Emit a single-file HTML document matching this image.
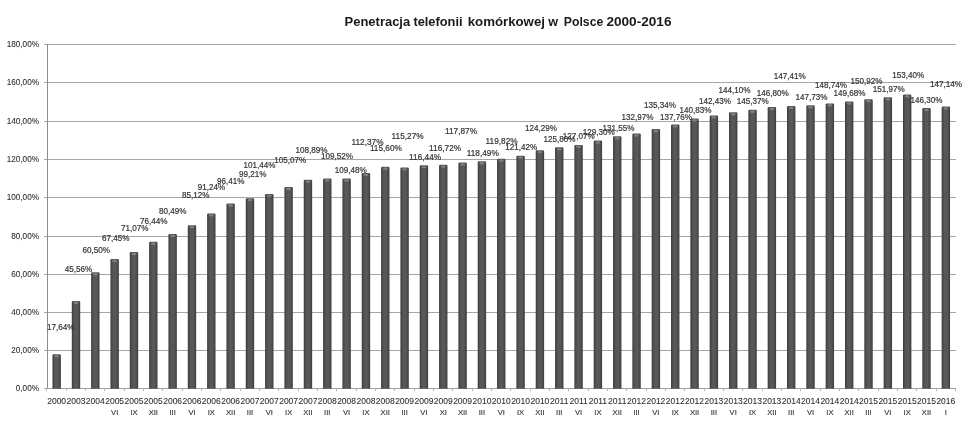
<!DOCTYPE html>
<html><head><meta charset="utf-8"><style>
html,body{margin:0;padding:0;background:#fff;width:965px;height:421px;overflow:hidden}
svg{display:block;will-change:transform}
text{font-family:"Liberation Sans",sans-serif}
</style></head><body>
<svg width="965" height="421" viewBox="0 0 965 421">
<defs>
<linearGradient id="bg" x1="0" x2="1" y1="0" y2="0">
<stop offset="0" stop-color="#3c3c3c"/><stop offset="0.15" stop-color="#4a4a4a"/><stop offset="0.35" stop-color="#585858"/><stop offset="0.65" stop-color="#585858"/><stop offset="0.85" stop-color="#4a4a4a"/><stop offset="1" stop-color="#3c3c3c"/>
</linearGradient>
</defs>
<rect width="965" height="421" fill="#fff"/>
<text x="344.60" y="25.9" font-size="12.4" font-weight="bold" fill="#1a1a1a" textLength="65.60" lengthAdjust="spacingAndGlyphs">Penetracja</text>
<text x="413.40" y="25.9" font-size="12.4" font-weight="bold" fill="#1a1a1a" textLength="49.20" lengthAdjust="spacingAndGlyphs">telefonii</text>
<text x="467.70" y="25.9" font-size="12.4" font-weight="bold" fill="#1a1a1a" textLength="77.30" lengthAdjust="spacingAndGlyphs">komórkowej</text>
<text x="548.30" y="25.9" font-size="12.4" font-weight="bold" fill="#1a1a1a" textLength="9.80" lengthAdjust="spacingAndGlyphs">w</text>
<text x="563.80" y="25.9" font-size="12.4" font-weight="bold" fill="#1a1a1a" textLength="39.50" lengthAdjust="spacingAndGlyphs">Polsce</text>
<text x="606.40" y="25.9" font-size="12.4" font-weight="bold" fill="#1a1a1a" textLength="65.10" lengthAdjust="spacingAndGlyphs">2000-2016</text>
<text x="39" y="391.40" font-size="8.2" fill="#2e2e2e" stroke="#2e2e2e" stroke-width="0.08" text-anchor="end">0,00%</text>
<text x="39" y="353.40" font-size="8.2" fill="#2e2e2e" stroke="#2e2e2e" stroke-width="0.08" text-anchor="end">20,00%</text>
<text x="39" y="315.40" font-size="8.2" fill="#2e2e2e" stroke="#2e2e2e" stroke-width="0.08" text-anchor="end">40,00%</text>
<text x="39" y="277.40" font-size="8.2" fill="#2e2e2e" stroke="#2e2e2e" stroke-width="0.08" text-anchor="end">60,00%</text>
<text x="39" y="239.40" font-size="8.2" fill="#2e2e2e" stroke="#2e2e2e" stroke-width="0.08" text-anchor="end">80,00%</text>
<text x="39" y="200.40" font-size="8.2" fill="#2e2e2e" stroke="#2e2e2e" stroke-width="0.08" text-anchor="end">100,00%</text>
<text x="39" y="162.40" font-size="8.2" fill="#2e2e2e" stroke="#2e2e2e" stroke-width="0.08" text-anchor="end">120,00%</text>
<text x="39" y="124.40" font-size="8.2" fill="#2e2e2e" stroke="#2e2e2e" stroke-width="0.08" text-anchor="end">140,00%</text>
<text x="39" y="85.40" font-size="8.2" fill="#2e2e2e" stroke="#2e2e2e" stroke-width="0.08" text-anchor="end">160,00%</text>
<text x="39" y="47.40" font-size="8.2" fill="#2e2e2e" stroke="#2e2e2e" stroke-width="0.08" text-anchor="end">180,00%</text>
<line x1="44" y1="388.50" x2="956" y2="388.50" stroke="#a6a6a6" stroke-width="1"/>
<line x1="44" y1="350.50" x2="956" y2="350.50" stroke="#a6a6a6" stroke-width="1"/>
<line x1="44" y1="312.50" x2="956" y2="312.50" stroke="#a6a6a6" stroke-width="1"/>
<line x1="44" y1="274.50" x2="956" y2="274.50" stroke="#a6a6a6" stroke-width="1"/>
<line x1="44" y1="236.50" x2="956" y2="236.50" stroke="#a6a6a6" stroke-width="1"/>
<line x1="44" y1="197.50" x2="956" y2="197.50" stroke="#a6a6a6" stroke-width="1"/>
<line x1="44" y1="159.50" x2="956" y2="159.50" stroke="#a6a6a6" stroke-width="1"/>
<line x1="44" y1="121.50" x2="956" y2="121.50" stroke="#a6a6a6" stroke-width="1"/>
<line x1="44" y1="82.50" x2="956" y2="82.50" stroke="#a6a6a6" stroke-width="1"/>
<line x1="44" y1="44.50" x2="956" y2="44.50" stroke="#a6a6a6" stroke-width="1"/>
<line x1="47.5" y1="44" x2="47.5" y2="389" stroke="#8c8c8c" stroke-width="1"/>
<line x1="47.0" y1="388.5" x2="956" y2="388.5" stroke="#a0a0a0" stroke-width="1"/>
<line x1="46.50" y1="388.5" x2="46.50" y2="391" stroke="#b4b4b4" stroke-width="1"/><line x1="66.50" y1="388.5" x2="66.50" y2="391" stroke="#b4b4b4" stroke-width="1"/><line x1="85.50" y1="388.5" x2="85.50" y2="391" stroke="#b4b4b4" stroke-width="1"/><line x1="104.50" y1="388.5" x2="104.50" y2="391" stroke="#b4b4b4" stroke-width="1"/><line x1="124.50" y1="388.5" x2="124.50" y2="391" stroke="#b4b4b4" stroke-width="1"/><line x1="143.50" y1="388.5" x2="143.50" y2="391" stroke="#b4b4b4" stroke-width="1"/><line x1="162.50" y1="388.5" x2="162.50" y2="391" stroke="#b4b4b4" stroke-width="1"/><line x1="182.50" y1="388.5" x2="182.50" y2="391" stroke="#b4b4b4" stroke-width="1"/><line x1="201.50" y1="388.5" x2="201.50" y2="391" stroke="#b4b4b4" stroke-width="1"/><line x1="220.50" y1="388.5" x2="220.50" y2="391" stroke="#b4b4b4" stroke-width="1"/><line x1="240.50" y1="388.5" x2="240.50" y2="391" stroke="#b4b4b4" stroke-width="1"/><line x1="259.50" y1="388.5" x2="259.50" y2="391" stroke="#b4b4b4" stroke-width="1"/><line x1="278.50" y1="388.5" x2="278.50" y2="391" stroke="#b4b4b4" stroke-width="1"/><line x1="298.50" y1="388.5" x2="298.50" y2="391" stroke="#b4b4b4" stroke-width="1"/><line x1="317.50" y1="388.5" x2="317.50" y2="391" stroke="#b4b4b4" stroke-width="1"/><line x1="336.50" y1="388.5" x2="336.50" y2="391" stroke="#b4b4b4" stroke-width="1"/><line x1="356.50" y1="388.5" x2="356.50" y2="391" stroke="#b4b4b4" stroke-width="1"/><line x1="375.50" y1="388.5" x2="375.50" y2="391" stroke="#b4b4b4" stroke-width="1"/><line x1="394.50" y1="388.5" x2="394.50" y2="391" stroke="#b4b4b4" stroke-width="1"/><line x1="414.50" y1="388.5" x2="414.50" y2="391" stroke="#b4b4b4" stroke-width="1"/><line x1="433.50" y1="388.5" x2="433.50" y2="391" stroke="#b4b4b4" stroke-width="1"/><line x1="452.50" y1="388.5" x2="452.50" y2="391" stroke="#b4b4b4" stroke-width="1"/><line x1="472.50" y1="388.5" x2="472.50" y2="391" stroke="#b4b4b4" stroke-width="1"/><line x1="491.50" y1="388.5" x2="491.50" y2="391" stroke="#b4b4b4" stroke-width="1"/><line x1="510.50" y1="388.5" x2="510.50" y2="391" stroke="#b4b4b4" stroke-width="1"/><line x1="530.50" y1="388.5" x2="530.50" y2="391" stroke="#b4b4b4" stroke-width="1"/><line x1="549.50" y1="388.5" x2="549.50" y2="391" stroke="#b4b4b4" stroke-width="1"/><line x1="568.50" y1="388.5" x2="568.50" y2="391" stroke="#b4b4b4" stroke-width="1"/><line x1="588.50" y1="388.5" x2="588.50" y2="391" stroke="#b4b4b4" stroke-width="1"/><line x1="607.50" y1="388.5" x2="607.50" y2="391" stroke="#b4b4b4" stroke-width="1"/><line x1="626.50" y1="388.5" x2="626.50" y2="391" stroke="#b4b4b4" stroke-width="1"/><line x1="646.50" y1="388.5" x2="646.50" y2="391" stroke="#b4b4b4" stroke-width="1"/><line x1="665.50" y1="388.5" x2="665.50" y2="391" stroke="#b4b4b4" stroke-width="1"/><line x1="684.50" y1="388.5" x2="684.50" y2="391" stroke="#b4b4b4" stroke-width="1"/><line x1="704.50" y1="388.5" x2="704.50" y2="391" stroke="#b4b4b4" stroke-width="1"/><line x1="723.50" y1="388.5" x2="723.50" y2="391" stroke="#b4b4b4" stroke-width="1"/><line x1="742.50" y1="388.5" x2="742.50" y2="391" stroke="#b4b4b4" stroke-width="1"/><line x1="762.50" y1="388.5" x2="762.50" y2="391" stroke="#b4b4b4" stroke-width="1"/><line x1="781.50" y1="388.5" x2="781.50" y2="391" stroke="#b4b4b4" stroke-width="1"/><line x1="800.50" y1="388.5" x2="800.50" y2="391" stroke="#b4b4b4" stroke-width="1"/><line x1="820.50" y1="388.5" x2="820.50" y2="391" stroke="#b4b4b4" stroke-width="1"/><line x1="839.50" y1="388.5" x2="839.50" y2="391" stroke="#b4b4b4" stroke-width="1"/><line x1="858.50" y1="388.5" x2="858.50" y2="391" stroke="#b4b4b4" stroke-width="1"/><line x1="878.50" y1="388.5" x2="878.50" y2="391" stroke="#b4b4b4" stroke-width="1"/><line x1="897.50" y1="388.5" x2="897.50" y2="391" stroke="#b4b4b4" stroke-width="1"/><line x1="916.50" y1="388.5" x2="916.50" y2="391" stroke="#b4b4b4" stroke-width="1"/><line x1="936.50" y1="388.5" x2="936.50" y2="391" stroke="#b4b4b4" stroke-width="1"/><line x1="955.50" y1="388.5" x2="955.50" y2="391" stroke="#b4b4b4" stroke-width="1"/>
<path d="M52.46 388.8 V355.54 Q52.46 354.34 53.66 354.34 H59.66 Q60.87 354.34 60.87 355.54 V388.8 Z" fill="url(#bg)"/><ellipse cx="56.66" cy="356.24" rx="2.60" ry="1.2" fill="#7e7e7e"/><path d="M71.80 388.8 V302.10 Q71.80 300.90 73.00 300.90 H79.00 Q80.20 300.90 80.20 302.10 V388.8 Z" fill="url(#bg)"/><ellipse cx="76.00" cy="302.80" rx="2.60" ry="1.2" fill="#7e7e7e"/><path d="M91.12 388.8 V273.50 Q91.12 272.30 92.32 272.30 H98.32 Q99.52 272.30 99.52 273.50 V388.8 Z" fill="url(#bg)"/><ellipse cx="95.32" cy="274.20" rx="2.60" ry="1.2" fill="#7e7e7e"/><path d="M110.45 388.8 V260.20 Q110.45 259.00 111.66 259.00 H117.66 Q118.86 259.00 118.86 260.20 V388.8 Z" fill="url(#bg)"/><ellipse cx="114.66" cy="260.90" rx="2.60" ry="1.2" fill="#7e7e7e"/><path d="M129.78 388.8 V253.27 Q129.78 252.07 130.98 252.07 H136.98 Q138.18 252.07 138.18 253.27 V388.8 Z" fill="url(#bg)"/><ellipse cx="133.98" cy="253.97" rx="2.60" ry="1.2" fill="#7e7e7e"/><path d="M149.12 388.8 V242.99 Q149.12 241.79 150.31 241.79 H156.31 Q157.51 241.79 157.51 242.99 V388.8 Z" fill="url(#bg)"/><ellipse cx="153.31" cy="243.69" rx="2.60" ry="1.2" fill="#7e7e7e"/><path d="M168.44 388.8 V235.24 Q168.44 234.04 169.64 234.04 H175.64 Q176.84 234.04 176.84 235.24 V388.8 Z" fill="url(#bg)"/><ellipse cx="172.64" cy="235.94" rx="2.60" ry="1.2" fill="#7e7e7e"/><path d="M187.78 388.8 V226.38 Q187.78 225.18 188.97 225.18 H194.97 Q196.17 225.18 196.17 226.38 V388.8 Z" fill="url(#bg)"/><ellipse cx="191.97" cy="227.08" rx="2.60" ry="1.2" fill="#7e7e7e"/><path d="M207.10 388.8 V214.67 Q207.10 213.47 208.30 213.47 H214.30 Q215.50 213.47 215.50 214.67 V388.8 Z" fill="url(#bg)"/><ellipse cx="211.30" cy="215.37" rx="2.60" ry="1.2" fill="#7e7e7e"/><path d="M226.44 388.8 V204.77 Q226.44 203.57 227.63 203.57 H233.63 Q234.83 203.57 234.83 204.77 V388.8 Z" fill="url(#bg)"/><ellipse cx="230.63" cy="205.47" rx="2.60" ry="1.2" fill="#7e7e7e"/><path d="M245.76 388.8 V199.41 Q245.76 198.21 246.96 198.21 H252.96 Q254.16 198.21 254.16 199.41 V388.8 Z" fill="url(#bg)"/><ellipse cx="249.96" cy="200.11" rx="2.60" ry="1.2" fill="#7e7e7e"/><path d="M265.09 388.8 V195.14 Q265.09 193.94 266.29 193.94 H272.29 Q273.49 193.94 273.49 195.14 V388.8 Z" fill="url(#bg)"/><ellipse cx="269.29" cy="195.84" rx="2.60" ry="1.2" fill="#7e7e7e"/><path d="M284.43 388.8 V188.20 Q284.43 187.00 285.62 187.00 H291.62 Q292.82 187.00 292.82 188.20 V388.8 Z" fill="url(#bg)"/><ellipse cx="288.62" cy="188.90" rx="2.60" ry="1.2" fill="#7e7e7e"/><path d="M303.75 388.8 V180.88 Q303.75 179.68 304.95 179.68 H310.95 Q312.15 179.68 312.15 180.88 V388.8 Z" fill="url(#bg)"/><ellipse cx="307.95" cy="181.58" rx="2.60" ry="1.2" fill="#7e7e7e"/><path d="M323.08 388.8 V179.68 Q323.08 178.48 324.28 178.48 H330.28 Q331.48 178.48 331.48 179.68 V388.8 Z" fill="url(#bg)"/><ellipse cx="327.28" cy="180.38" rx="2.60" ry="1.2" fill="#7e7e7e"/><path d="M342.41 388.8 V179.76 Q342.41 178.56 343.61 178.56 H349.61 Q350.81 178.56 350.81 179.76 V388.8 Z" fill="url(#bg)"/><ellipse cx="346.61" cy="180.46" rx="2.60" ry="1.2" fill="#7e7e7e"/><path d="M361.75 388.8 V174.22 Q361.75 173.02 362.94 173.02 H368.94 Q370.14 173.02 370.14 174.22 V388.8 Z" fill="url(#bg)"/><ellipse cx="365.94" cy="174.92" rx="2.60" ry="1.2" fill="#7e7e7e"/><path d="M381.07 388.8 V168.04 Q381.07 166.84 382.27 166.84 H388.27 Q389.47 166.84 389.47 168.04 V388.8 Z" fill="url(#bg)"/><ellipse cx="385.27" cy="168.74" rx="2.60" ry="1.2" fill="#7e7e7e"/><path d="M400.40 388.8 V168.67 Q400.40 167.47 401.60 167.47 H407.60 Q408.80 167.47 408.80 168.67 V388.8 Z" fill="url(#bg)"/><ellipse cx="404.60" cy="169.37" rx="2.60" ry="1.2" fill="#7e7e7e"/><path d="M419.73 388.8 V166.43 Q419.73 165.23 420.93 165.23 H426.93 Q428.13 165.23 428.13 166.43 V388.8 Z" fill="url(#bg)"/><ellipse cx="423.93" cy="167.13" rx="2.60" ry="1.2" fill="#7e7e7e"/><path d="M439.06 388.8 V165.90 Q439.06 164.70 440.26 164.70 H446.26 Q447.46 164.70 447.46 165.90 V388.8 Z" fill="url(#bg)"/><ellipse cx="443.26" cy="166.60" rx="2.60" ry="1.2" fill="#7e7e7e"/><path d="M458.39 388.8 V163.70 Q458.39 162.50 459.59 162.50 H465.59 Q466.79 162.50 466.79 163.70 V388.8 Z" fill="url(#bg)"/><ellipse cx="462.59" cy="164.40" rx="2.60" ry="1.2" fill="#7e7e7e"/><path d="M477.72 388.8 V162.51 Q477.72 161.31 478.92 161.31 H484.92 Q486.12 161.31 486.12 162.51 V388.8 Z" fill="url(#bg)"/><ellipse cx="481.92" cy="163.21" rx="2.60" ry="1.2" fill="#7e7e7e"/><path d="M497.05 388.8 V159.96 Q497.05 158.76 498.25 158.76 H504.25 Q505.45 158.76 505.45 159.96 V388.8 Z" fill="url(#bg)"/><ellipse cx="501.25" cy="160.66" rx="2.60" ry="1.2" fill="#7e7e7e"/><path d="M516.38 388.8 V156.90 Q516.38 155.70 517.59 155.70 H523.59 Q524.79 155.70 524.79 156.90 V388.8 Z" fill="url(#bg)"/><ellipse cx="520.59" cy="157.60" rx="2.60" ry="1.2" fill="#7e7e7e"/><path d="M535.71 388.8 V151.41 Q535.71 150.21 536.91 150.21 H542.91 Q544.12 150.21 544.12 151.41 V388.8 Z" fill="url(#bg)"/><ellipse cx="539.91" cy="152.11" rx="2.60" ry="1.2" fill="#7e7e7e"/><path d="M555.04 388.8 V148.52 Q555.04 147.32 556.25 147.32 H562.25 Q563.45 147.32 563.45 148.52 V388.8 Z" fill="url(#bg)"/><ellipse cx="559.25" cy="149.22" rx="2.60" ry="1.2" fill="#7e7e7e"/><path d="M574.37 388.8 V146.09 Q574.37 144.89 575.57 144.89 H581.57 Q582.77 144.89 582.77 146.09 V388.8 Z" fill="url(#bg)"/><ellipse cx="578.57" cy="146.79" rx="2.60" ry="1.2" fill="#7e7e7e"/><path d="M593.70 388.8 V141.82 Q593.70 140.62 594.90 140.62 H600.90 Q602.11 140.62 602.11 141.82 V388.8 Z" fill="url(#bg)"/><ellipse cx="597.90" cy="142.52" rx="2.60" ry="1.2" fill="#7e7e7e"/><path d="M613.03 388.8 V137.51 Q613.03 136.31 614.23 136.31 H620.23 Q621.43 136.31 621.43 137.51 V388.8 Z" fill="url(#bg)"/><ellipse cx="617.23" cy="138.21" rx="2.60" ry="1.2" fill="#7e7e7e"/><path d="M632.36 388.8 V134.80 Q632.36 133.60 633.56 133.60 H639.56 Q640.76 133.60 640.76 134.80 V388.8 Z" fill="url(#bg)"/><ellipse cx="636.56" cy="135.50" rx="2.60" ry="1.2" fill="#7e7e7e"/><path d="M651.69 388.8 V130.26 Q651.69 129.06 652.89 129.06 H658.89 Q660.10 129.06 660.10 130.26 V388.8 Z" fill="url(#bg)"/><ellipse cx="655.89" cy="130.96" rx="2.60" ry="1.2" fill="#7e7e7e"/><path d="M671.02 388.8 V125.63 Q671.02 124.43 672.22 124.43 H678.22 Q679.42 124.43 679.42 125.63 V388.8 Z" fill="url(#bg)"/><ellipse cx="675.22" cy="126.33" rx="2.60" ry="1.2" fill="#7e7e7e"/><path d="M690.35 388.8 V119.75 Q690.35 118.55 691.55 118.55 H697.55 Q698.75 118.55 698.75 119.75 V388.8 Z" fill="url(#bg)"/><ellipse cx="694.55" cy="120.45" rx="2.60" ry="1.2" fill="#7e7e7e"/><path d="M709.68 388.8 V116.69 Q709.68 115.49 710.88 115.49 H716.88 Q718.09 115.49 718.09 116.69 V388.8 Z" fill="url(#bg)"/><ellipse cx="713.88" cy="117.39" rx="2.60" ry="1.2" fill="#7e7e7e"/><path d="M729.01 388.8 V113.49 Q729.01 112.29 730.21 112.29 H736.21 Q737.41 112.29 737.41 113.49 V388.8 Z" fill="url(#bg)"/><ellipse cx="733.21" cy="114.19" rx="2.60" ry="1.2" fill="#7e7e7e"/><path d="M748.34 388.8 V111.06 Q748.34 109.86 749.54 109.86 H755.54 Q756.75 109.86 756.75 111.06 V388.8 Z" fill="url(#bg)"/><ellipse cx="752.54" cy="111.76" rx="2.60" ry="1.2" fill="#7e7e7e"/><path d="M767.67 388.8 V108.32 Q767.67 107.12 768.87 107.12 H774.87 Q776.07 107.12 776.07 108.32 V388.8 Z" fill="url(#bg)"/><ellipse cx="771.87" cy="109.02" rx="2.60" ry="1.2" fill="#7e7e7e"/><path d="M787.00 388.8 V107.16 Q787.00 105.96 788.20 105.96 H794.20 Q795.40 105.96 795.40 107.16 V388.8 Z" fill="url(#bg)"/><ellipse cx="791.20" cy="107.86" rx="2.60" ry="1.2" fill="#7e7e7e"/><path d="M806.33 388.8 V106.54 Q806.33 105.34 807.53 105.34 H813.53 Q814.74 105.34 814.74 106.54 V388.8 Z" fill="url(#bg)"/><ellipse cx="810.53" cy="107.24" rx="2.60" ry="1.2" fill="#7e7e7e"/><path d="M825.66 388.8 V104.61 Q825.66 103.41 826.86 103.41 H832.86 Q834.06 103.41 834.06 104.61 V388.8 Z" fill="url(#bg)"/><ellipse cx="829.86" cy="105.31" rx="2.60" ry="1.2" fill="#7e7e7e"/><path d="M844.99 388.8 V102.81 Q844.99 101.61 846.19 101.61 H852.19 Q853.39 101.61 853.39 102.81 V388.8 Z" fill="url(#bg)"/><ellipse cx="849.19" cy="103.51" rx="2.60" ry="1.2" fill="#7e7e7e"/><path d="M864.32 388.8 V100.44 Q864.32 99.24 865.52 99.24 H871.52 Q872.73 99.24 872.73 100.44 V388.8 Z" fill="url(#bg)"/><ellipse cx="868.52" cy="101.14" rx="2.60" ry="1.2" fill="#7e7e7e"/><path d="M883.65 388.8 V98.43 Q883.65 97.23 884.85 97.23 H890.85 Q892.05 97.23 892.05 98.43 V388.8 Z" fill="url(#bg)"/><ellipse cx="887.85" cy="99.13" rx="2.60" ry="1.2" fill="#7e7e7e"/><path d="M902.98 388.8 V95.69 Q902.98 94.49 904.18 94.49 H910.18 Q911.38 94.49 911.38 95.69 V388.8 Z" fill="url(#bg)"/><ellipse cx="907.18" cy="96.39" rx="2.60" ry="1.2" fill="#7e7e7e"/><path d="M922.31 388.8 V109.28 Q922.31 108.08 923.51 108.08 H929.51 Q930.71 108.08 930.71 109.28 V388.8 Z" fill="url(#bg)"/><ellipse cx="926.51" cy="109.98" rx="2.60" ry="1.2" fill="#7e7e7e"/><path d="M941.64 388.8 V107.67 Q941.64 106.47 942.84 106.47 H948.84 Q950.04 106.47 950.04 107.67 V388.8 Z" fill="url(#bg)"/><ellipse cx="945.84" cy="108.37" rx="2.60" ry="1.2" fill="#7e7e7e"/>
<text x="47.10" y="329.70" font-size="8.8" fill="#333" stroke="#333" stroke-width="0.2" textLength="27.47" lengthAdjust="spacingAndGlyphs">17,64%</text>
<text x="64.75" y="272.30" font-size="8.8" fill="#333" stroke="#333" stroke-width="0.2" textLength="27.47" lengthAdjust="spacingAndGlyphs">45,56%</text>
<text x="82.40" y="253.30" font-size="8.8" fill="#333" stroke="#333" stroke-width="0.2" textLength="27.47" lengthAdjust="spacingAndGlyphs">60,50%</text>
<text x="102.10" y="240.60" font-size="8.8" fill="#333" stroke="#333" stroke-width="0.2" textLength="27.47" lengthAdjust="spacingAndGlyphs">67,45%</text>
<text x="121.10" y="230.90" font-size="8.8" fill="#333" stroke="#333" stroke-width="0.2" textLength="27.47" lengthAdjust="spacingAndGlyphs">71,07%</text>
<text x="139.90" y="223.80" font-size="8.8" fill="#333" stroke="#333" stroke-width="0.2" textLength="27.47" lengthAdjust="spacingAndGlyphs">76,44%</text>
<text x="159.10" y="213.90" font-size="8.8" fill="#333" stroke="#333" stroke-width="0.2" textLength="27.47" lengthAdjust="spacingAndGlyphs">80,49%</text>
<text x="182.00" y="197.50" font-size="8.8" fill="#333" stroke="#333" stroke-width="0.2" textLength="27.47" lengthAdjust="spacingAndGlyphs">85,12%</text>
<text x="197.80" y="190.30" font-size="8.8" fill="#333" stroke="#333" stroke-width="0.2" textLength="27.47" lengthAdjust="spacingAndGlyphs">91,24%</text>
<text x="217.00" y="183.80" font-size="8.8" fill="#333" stroke="#333" stroke-width="0.2" textLength="27.47" lengthAdjust="spacingAndGlyphs">96,41%</text>
<text x="239.10" y="176.80" font-size="8.8" fill="#333" stroke="#333" stroke-width="0.2" textLength="27.47" lengthAdjust="spacingAndGlyphs">99,21%</text>
<text x="243.40" y="168.10" font-size="8.8" fill="#333" stroke="#333" stroke-width="0.2" textLength="31.97" lengthAdjust="spacingAndGlyphs">101,44%</text>
<text x="274.30" y="163.20" font-size="8.8" fill="#333" stroke="#333" stroke-width="0.2" textLength="31.97" lengthAdjust="spacingAndGlyphs">105,07%</text>
<text x="295.60" y="152.80" font-size="8.8" fill="#333" stroke="#333" stroke-width="0.2" textLength="31.97" lengthAdjust="spacingAndGlyphs">108,89%</text>
<text x="321.00" y="159.20" font-size="8.8" fill="#333" stroke="#333" stroke-width="0.2" textLength="31.97" lengthAdjust="spacingAndGlyphs">109,52%</text>
<text x="334.80" y="173.00" font-size="8.8" fill="#333" stroke="#333" stroke-width="0.2" textLength="31.97" lengthAdjust="spacingAndGlyphs">109,48%</text>
<text x="351.50" y="144.50" font-size="8.8" fill="#333" stroke="#333" stroke-width="0.2" textLength="31.97" lengthAdjust="spacingAndGlyphs">112,37%</text>
<text x="369.90" y="151.40" font-size="8.8" fill="#333" stroke="#333" stroke-width="0.2" textLength="31.97" lengthAdjust="spacingAndGlyphs">115,60%</text>
<text x="391.60" y="138.80" font-size="8.8" fill="#333" stroke="#333" stroke-width="0.2" textLength="31.97" lengthAdjust="spacingAndGlyphs">115,27%</text>
<text x="409.10" y="159.60" font-size="8.8" fill="#333" stroke="#333" stroke-width="0.2" textLength="31.97" lengthAdjust="spacingAndGlyphs">116,44%</text>
<text x="429.10" y="151.10" font-size="8.8" fill="#333" stroke="#333" stroke-width="0.2" textLength="31.97" lengthAdjust="spacingAndGlyphs">116,72%</text>
<text x="445.00" y="133.90" font-size="8.8" fill="#333" stroke="#333" stroke-width="0.2" textLength="31.97" lengthAdjust="spacingAndGlyphs">117,87%</text>
<text x="466.80" y="155.90" font-size="8.8" fill="#333" stroke="#333" stroke-width="0.2" textLength="31.97" lengthAdjust="spacingAndGlyphs">118,49%</text>
<text x="485.60" y="143.90" font-size="8.8" fill="#333" stroke="#333" stroke-width="0.2" textLength="31.97" lengthAdjust="spacingAndGlyphs">119,82%</text>
<text x="505.20" y="150.20" font-size="8.8" fill="#333" stroke="#333" stroke-width="0.2" textLength="31.97" lengthAdjust="spacingAndGlyphs">121,42%</text>
<text x="525.00" y="130.80" font-size="8.8" fill="#333" stroke="#333" stroke-width="0.2" textLength="31.97" lengthAdjust="spacingAndGlyphs">124,29%</text>
<text x="543.50" y="141.50" font-size="8.8" fill="#333" stroke="#333" stroke-width="0.2" textLength="31.97" lengthAdjust="spacingAndGlyphs">125,80%</text>
<text x="562.80" y="138.80" font-size="8.8" fill="#333" stroke="#333" stroke-width="0.2" textLength="31.97" lengthAdjust="spacingAndGlyphs">127,07%</text>
<text x="582.70" y="134.60" font-size="8.8" fill="#333" stroke="#333" stroke-width="0.2" textLength="31.97" lengthAdjust="spacingAndGlyphs">129,30%</text>
<text x="602.40" y="130.60" font-size="8.8" fill="#333" stroke="#333" stroke-width="0.2" textLength="31.97" lengthAdjust="spacingAndGlyphs">131,55%</text>
<text x="621.40" y="119.60" font-size="8.8" fill="#333" stroke="#333" stroke-width="0.2" textLength="31.97" lengthAdjust="spacingAndGlyphs">132,97%</text>
<text x="643.90" y="108.20" font-size="8.8" fill="#333" stroke="#333" stroke-width="0.2" textLength="31.97" lengthAdjust="spacingAndGlyphs">135,34%</text>
<text x="659.90" y="119.50" font-size="8.8" fill="#333" stroke="#333" stroke-width="0.2" textLength="31.97" lengthAdjust="spacingAndGlyphs">137,76%</text>
<text x="679.50" y="113.20" font-size="8.8" fill="#333" stroke="#333" stroke-width="0.2" textLength="31.97" lengthAdjust="spacingAndGlyphs">140,83%</text>
<text x="699.10" y="103.50" font-size="8.8" fill="#333" stroke="#333" stroke-width="0.2" textLength="31.97" lengthAdjust="spacingAndGlyphs">142,43%</text>
<text x="718.50" y="92.90" font-size="8.8" fill="#333" stroke="#333" stroke-width="0.2" textLength="31.97" lengthAdjust="spacingAndGlyphs">144,10%</text>
<text x="736.80" y="103.50" font-size="8.8" fill="#333" stroke="#333" stroke-width="0.2" textLength="31.97" lengthAdjust="spacingAndGlyphs">145,37%</text>
<text x="756.70" y="96.30" font-size="8.8" fill="#333" stroke="#333" stroke-width="0.2" textLength="31.97" lengthAdjust="spacingAndGlyphs">146,80%</text>
<text x="773.80" y="79.00" font-size="8.8" fill="#333" stroke="#333" stroke-width="0.2" textLength="31.97" lengthAdjust="spacingAndGlyphs">147,41%</text>
<text x="795.60" y="99.60" font-size="8.8" fill="#333" stroke="#333" stroke-width="0.2" textLength="31.97" lengthAdjust="spacingAndGlyphs">147,73%</text>
<text x="814.90" y="88.10" font-size="8.8" fill="#333" stroke="#333" stroke-width="0.2" textLength="31.97" lengthAdjust="spacingAndGlyphs">148,74%</text>
<text x="833.50" y="95.60" font-size="8.8" fill="#333" stroke="#333" stroke-width="0.2" textLength="31.97" lengthAdjust="spacingAndGlyphs">149,68%</text>
<text x="850.60" y="83.90" font-size="8.8" fill="#333" stroke="#333" stroke-width="0.2" textLength="31.97" lengthAdjust="spacingAndGlyphs">150,92%</text>
<text x="872.70" y="91.60" font-size="8.8" fill="#333" stroke="#333" stroke-width="0.2" textLength="31.97" lengthAdjust="spacingAndGlyphs">151,97%</text>
<text x="892.20" y="77.50" font-size="8.8" fill="#333" stroke="#333" stroke-width="0.2" textLength="31.97" lengthAdjust="spacingAndGlyphs">153,40%</text>
<text x="910.60" y="102.80" font-size="8.8" fill="#333" stroke="#333" stroke-width="0.2" textLength="31.97" lengthAdjust="spacingAndGlyphs">146,30%</text>
<text x="929.90" y="86.80" font-size="8.8" fill="#333" stroke="#333" stroke-width="0.2" textLength="31.97" lengthAdjust="spacingAndGlyphs">147,14%</text>
<text x="56.66" y="404.3" font-size="8.5" fill="#2e2e2e" stroke="#2e2e2e" stroke-width="0.08" text-anchor="middle">2000</text><text x="76.00" y="404.3" font-size="8.5" fill="#2e2e2e" stroke="#2e2e2e" stroke-width="0.08" text-anchor="middle">2003</text><text x="95.32" y="404.3" font-size="8.5" fill="#2e2e2e" stroke="#2e2e2e" stroke-width="0.08" text-anchor="middle">2004</text><text x="114.66" y="404.3" font-size="8.5" fill="#2e2e2e" stroke="#2e2e2e" stroke-width="0.08" text-anchor="middle">2005</text><text x="114.66" y="415.4" font-size="7.6" fill="#333" stroke="#333" stroke-width="0.12" text-anchor="middle">VI</text><text x="133.98" y="404.3" font-size="8.5" fill="#2e2e2e" stroke="#2e2e2e" stroke-width="0.08" text-anchor="middle">2005</text><text x="133.98" y="415.4" font-size="7.6" fill="#333" stroke="#333" stroke-width="0.12" text-anchor="middle">IX</text><text x="153.31" y="404.3" font-size="8.5" fill="#2e2e2e" stroke="#2e2e2e" stroke-width="0.08" text-anchor="middle">2005</text><text x="153.31" y="415.4" font-size="7.6" fill="#333" stroke="#333" stroke-width="0.12" text-anchor="middle">XII</text><text x="172.64" y="404.3" font-size="8.5" fill="#2e2e2e" stroke="#2e2e2e" stroke-width="0.08" text-anchor="middle">2006</text><text x="172.64" y="415.4" font-size="7.6" fill="#333" stroke="#333" stroke-width="0.12" text-anchor="middle">III</text><text x="191.97" y="404.3" font-size="8.5" fill="#2e2e2e" stroke="#2e2e2e" stroke-width="0.08" text-anchor="middle">2006</text><text x="191.97" y="415.4" font-size="7.6" fill="#333" stroke="#333" stroke-width="0.12" text-anchor="middle">VI</text><text x="211.30" y="404.3" font-size="8.5" fill="#2e2e2e" stroke="#2e2e2e" stroke-width="0.08" text-anchor="middle">2006</text><text x="211.30" y="415.4" font-size="7.6" fill="#333" stroke="#333" stroke-width="0.12" text-anchor="middle">IX</text><text x="230.63" y="404.3" font-size="8.5" fill="#2e2e2e" stroke="#2e2e2e" stroke-width="0.08" text-anchor="middle">2006</text><text x="230.63" y="415.4" font-size="7.6" fill="#333" stroke="#333" stroke-width="0.12" text-anchor="middle">XII</text><text x="249.96" y="404.3" font-size="8.5" fill="#2e2e2e" stroke="#2e2e2e" stroke-width="0.08" text-anchor="middle">2007</text><text x="249.96" y="415.4" font-size="7.6" fill="#333" stroke="#333" stroke-width="0.12" text-anchor="middle">III</text><text x="269.29" y="404.3" font-size="8.5" fill="#2e2e2e" stroke="#2e2e2e" stroke-width="0.08" text-anchor="middle">2007</text><text x="269.29" y="415.4" font-size="7.6" fill="#333" stroke="#333" stroke-width="0.12" text-anchor="middle">VI</text><text x="288.62" y="404.3" font-size="8.5" fill="#2e2e2e" stroke="#2e2e2e" stroke-width="0.08" text-anchor="middle">2007</text><text x="288.62" y="415.4" font-size="7.6" fill="#333" stroke="#333" stroke-width="0.12" text-anchor="middle">IX</text><text x="307.95" y="404.3" font-size="8.5" fill="#2e2e2e" stroke="#2e2e2e" stroke-width="0.08" text-anchor="middle">2007</text><text x="307.95" y="415.4" font-size="7.6" fill="#333" stroke="#333" stroke-width="0.12" text-anchor="middle">XII</text><text x="327.28" y="404.3" font-size="8.5" fill="#2e2e2e" stroke="#2e2e2e" stroke-width="0.08" text-anchor="middle">2008</text><text x="327.28" y="415.4" font-size="7.6" fill="#333" stroke="#333" stroke-width="0.12" text-anchor="middle">III</text><text x="346.61" y="404.3" font-size="8.5" fill="#2e2e2e" stroke="#2e2e2e" stroke-width="0.08" text-anchor="middle">2008</text><text x="346.61" y="415.4" font-size="7.6" fill="#333" stroke="#333" stroke-width="0.12" text-anchor="middle">VI</text><text x="365.94" y="404.3" font-size="8.5" fill="#2e2e2e" stroke="#2e2e2e" stroke-width="0.08" text-anchor="middle">2008</text><text x="365.94" y="415.4" font-size="7.6" fill="#333" stroke="#333" stroke-width="0.12" text-anchor="middle">IX</text><text x="385.27" y="404.3" font-size="8.5" fill="#2e2e2e" stroke="#2e2e2e" stroke-width="0.08" text-anchor="middle">2008</text><text x="385.27" y="415.4" font-size="7.6" fill="#333" stroke="#333" stroke-width="0.12" text-anchor="middle">XII</text><text x="404.60" y="404.3" font-size="8.5" fill="#2e2e2e" stroke="#2e2e2e" stroke-width="0.08" text-anchor="middle">2009</text><text x="404.60" y="415.4" font-size="7.6" fill="#333" stroke="#333" stroke-width="0.12" text-anchor="middle">III</text><text x="423.93" y="404.3" font-size="8.5" fill="#2e2e2e" stroke="#2e2e2e" stroke-width="0.08" text-anchor="middle">2009</text><text x="423.93" y="415.4" font-size="7.6" fill="#333" stroke="#333" stroke-width="0.12" text-anchor="middle">VI</text><text x="443.26" y="404.3" font-size="8.5" fill="#2e2e2e" stroke="#2e2e2e" stroke-width="0.08" text-anchor="middle">2009</text><text x="443.26" y="415.4" font-size="7.6" fill="#333" stroke="#333" stroke-width="0.12" text-anchor="middle">XI</text><text x="462.59" y="404.3" font-size="8.5" fill="#2e2e2e" stroke="#2e2e2e" stroke-width="0.08" text-anchor="middle">2009</text><text x="462.59" y="415.4" font-size="7.6" fill="#333" stroke="#333" stroke-width="0.12" text-anchor="middle">XII</text><text x="481.92" y="404.3" font-size="8.5" fill="#2e2e2e" stroke="#2e2e2e" stroke-width="0.08" text-anchor="middle">2010</text><text x="481.92" y="415.4" font-size="7.6" fill="#333" stroke="#333" stroke-width="0.12" text-anchor="middle">III</text><text x="501.25" y="404.3" font-size="8.5" fill="#2e2e2e" stroke="#2e2e2e" stroke-width="0.08" text-anchor="middle">2010</text><text x="501.25" y="415.4" font-size="7.6" fill="#333" stroke="#333" stroke-width="0.12" text-anchor="middle">VI</text><text x="520.59" y="404.3" font-size="8.5" fill="#2e2e2e" stroke="#2e2e2e" stroke-width="0.08" text-anchor="middle">2010</text><text x="520.59" y="415.4" font-size="7.6" fill="#333" stroke="#333" stroke-width="0.12" text-anchor="middle">IX</text><text x="539.91" y="404.3" font-size="8.5" fill="#2e2e2e" stroke="#2e2e2e" stroke-width="0.08" text-anchor="middle">2010</text><text x="539.91" y="415.4" font-size="7.6" fill="#333" stroke="#333" stroke-width="0.12" text-anchor="middle">XII</text><text x="559.25" y="404.3" font-size="8.5" fill="#2e2e2e" stroke="#2e2e2e" stroke-width="0.08" text-anchor="middle">2011</text><text x="559.25" y="415.4" font-size="7.6" fill="#333" stroke="#333" stroke-width="0.12" text-anchor="middle">III</text><text x="578.57" y="404.3" font-size="8.5" fill="#2e2e2e" stroke="#2e2e2e" stroke-width="0.08" text-anchor="middle">2011</text><text x="578.57" y="415.4" font-size="7.6" fill="#333" stroke="#333" stroke-width="0.12" text-anchor="middle">VI</text><text x="597.90" y="404.3" font-size="8.5" fill="#2e2e2e" stroke="#2e2e2e" stroke-width="0.08" text-anchor="middle">2011</text><text x="597.90" y="415.4" font-size="7.6" fill="#333" stroke="#333" stroke-width="0.12" text-anchor="middle">IX</text><text x="617.23" y="404.3" font-size="8.5" fill="#2e2e2e" stroke="#2e2e2e" stroke-width="0.08" text-anchor="middle">2011</text><text x="617.23" y="415.4" font-size="7.6" fill="#333" stroke="#333" stroke-width="0.12" text-anchor="middle">XII</text><text x="636.56" y="404.3" font-size="8.5" fill="#2e2e2e" stroke="#2e2e2e" stroke-width="0.08" text-anchor="middle">2012</text><text x="636.56" y="415.4" font-size="7.6" fill="#333" stroke="#333" stroke-width="0.12" text-anchor="middle">III</text><text x="655.89" y="404.3" font-size="8.5" fill="#2e2e2e" stroke="#2e2e2e" stroke-width="0.08" text-anchor="middle">2012</text><text x="655.89" y="415.4" font-size="7.6" fill="#333" stroke="#333" stroke-width="0.12" text-anchor="middle">VI</text><text x="675.22" y="404.3" font-size="8.5" fill="#2e2e2e" stroke="#2e2e2e" stroke-width="0.08" text-anchor="middle">2012</text><text x="675.22" y="415.4" font-size="7.6" fill="#333" stroke="#333" stroke-width="0.12" text-anchor="middle">IX</text><text x="694.55" y="404.3" font-size="8.5" fill="#2e2e2e" stroke="#2e2e2e" stroke-width="0.08" text-anchor="middle">2012</text><text x="694.55" y="415.4" font-size="7.6" fill="#333" stroke="#333" stroke-width="0.12" text-anchor="middle">XII</text><text x="713.88" y="404.3" font-size="8.5" fill="#2e2e2e" stroke="#2e2e2e" stroke-width="0.08" text-anchor="middle">2013</text><text x="713.88" y="415.4" font-size="7.6" fill="#333" stroke="#333" stroke-width="0.12" text-anchor="middle">III</text><text x="733.21" y="404.3" font-size="8.5" fill="#2e2e2e" stroke="#2e2e2e" stroke-width="0.08" text-anchor="middle">2013</text><text x="733.21" y="415.4" font-size="7.6" fill="#333" stroke="#333" stroke-width="0.12" text-anchor="middle">VI</text><text x="752.54" y="404.3" font-size="8.5" fill="#2e2e2e" stroke="#2e2e2e" stroke-width="0.08" text-anchor="middle">2013</text><text x="752.54" y="415.4" font-size="7.6" fill="#333" stroke="#333" stroke-width="0.12" text-anchor="middle">IX</text><text x="771.87" y="404.3" font-size="8.5" fill="#2e2e2e" stroke="#2e2e2e" stroke-width="0.08" text-anchor="middle">2013</text><text x="771.87" y="415.4" font-size="7.6" fill="#333" stroke="#333" stroke-width="0.12" text-anchor="middle">XII</text><text x="791.20" y="404.3" font-size="8.5" fill="#2e2e2e" stroke="#2e2e2e" stroke-width="0.08" text-anchor="middle">2014</text><text x="791.20" y="415.4" font-size="7.6" fill="#333" stroke="#333" stroke-width="0.12" text-anchor="middle">III</text><text x="810.53" y="404.3" font-size="8.5" fill="#2e2e2e" stroke="#2e2e2e" stroke-width="0.08" text-anchor="middle">2014</text><text x="810.53" y="415.4" font-size="7.6" fill="#333" stroke="#333" stroke-width="0.12" text-anchor="middle">VI</text><text x="829.86" y="404.3" font-size="8.5" fill="#2e2e2e" stroke="#2e2e2e" stroke-width="0.08" text-anchor="middle">2014</text><text x="829.86" y="415.4" font-size="7.6" fill="#333" stroke="#333" stroke-width="0.12" text-anchor="middle">IX</text><text x="849.19" y="404.3" font-size="8.5" fill="#2e2e2e" stroke="#2e2e2e" stroke-width="0.08" text-anchor="middle">2014</text><text x="849.19" y="415.4" font-size="7.6" fill="#333" stroke="#333" stroke-width="0.12" text-anchor="middle">XII</text><text x="868.52" y="404.3" font-size="8.5" fill="#2e2e2e" stroke="#2e2e2e" stroke-width="0.08" text-anchor="middle">2015</text><text x="868.52" y="415.4" font-size="7.6" fill="#333" stroke="#333" stroke-width="0.12" text-anchor="middle">III</text><text x="887.85" y="404.3" font-size="8.5" fill="#2e2e2e" stroke="#2e2e2e" stroke-width="0.08" text-anchor="middle">2015</text><text x="887.85" y="415.4" font-size="7.6" fill="#333" stroke="#333" stroke-width="0.12" text-anchor="middle">VI</text><text x="907.18" y="404.3" font-size="8.5" fill="#2e2e2e" stroke="#2e2e2e" stroke-width="0.08" text-anchor="middle">2015</text><text x="907.18" y="415.4" font-size="7.6" fill="#333" stroke="#333" stroke-width="0.12" text-anchor="middle">IX</text><text x="926.51" y="404.3" font-size="8.5" fill="#2e2e2e" stroke="#2e2e2e" stroke-width="0.08" text-anchor="middle">2015</text><text x="926.51" y="415.4" font-size="7.6" fill="#333" stroke="#333" stroke-width="0.12" text-anchor="middle">XII</text><text x="945.84" y="404.3" font-size="8.5" fill="#2e2e2e" stroke="#2e2e2e" stroke-width="0.08" text-anchor="middle">2016</text><text x="945.84" y="415.4" font-size="7.6" fill="#333" stroke="#333" stroke-width="0.12" text-anchor="middle">I</text>
</svg></body></html>
